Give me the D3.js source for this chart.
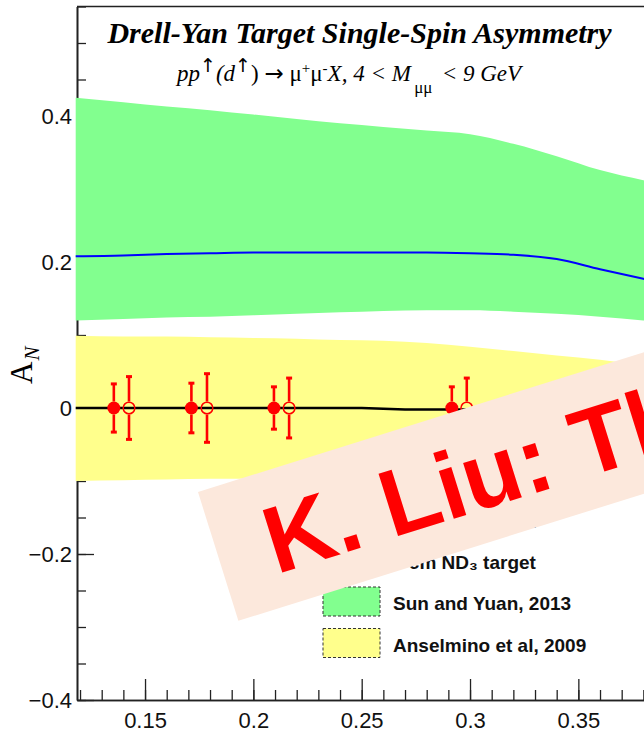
<!DOCTYPE html>
<html>
<head>
<meta charset="utf-8">
<script src="https://cdn.jsdelivr.net/npm/d3@7"></script>
<style>
  body { margin: 0; background: #fff; }
  svg { display: block; }
</style>
</head>
<body>
<svg id="chart" width="644" height="733"></svg>
<script>
// x grid for the theory bands
const bandX = [0.118, 0.14, 0.16, 0.18, 0.20, 0.22, 0.24, 0.26, 0.28, 0.30, 0.32, 0.34, 0.36, 0.38, 0.40];

// Sun and Yuan, 2013 (green band + blue central curve)
const sunUpper = [0.425, 0.419, 0.413, 0.408, 0.402, 0.396, 0.390, 0.385, 0.380, 0.375, 0.362, 0.345, 0.326, 0.312, 0.300];
const sunLower = [0.120, 0.122, 0.124, 0.125, 0.127, 0.129, 0.131, 0.133, 0.134, 0.134, 0.132, 0.129, 0.125, 0.120, 0.115];
const sunCentral = [0.208, 0.209, 0.211, 0.212, 0.213, 0.213, 0.213, 0.213, 0.213, 0.212, 0.210, 0.204, 0.190, 0.177, 0.165];

// Anselmino et al, 2009 (yellow band)
const ansUpper = [0.099, 0.098, 0.098, 0.097, 0.096, 0.095, 0.093, 0.092, 0.089, 0.084, 0.078, 0.072, 0.066, 0.058, 0.050];
const ansLower = [-0.100, -0.099, -0.098, -0.097, -0.097, -0.096, -0.094, -0.093, -0.090, -0.085, -0.079, -0.073, -0.067, -0.059, -0.051];

// zero line
const zeroX = [0.118, 0.25, 0.26, 0.27, 0.30, 0.34];
const zeroY = [0, 0, -0.001, -0.002, -0.002, -0.002];

// projected points (NH3 filled, ND3 open)
const nh3X = [0.1356, 0.1714, 0.2095, 0.2916];
const nh3Y = [0, 0, 0, 0];
const nh3Err = [0.033, 0.034, 0.029, 0.029];
const nd3X = [0.1426, 0.1786, 0.2165, 0.2985];
const nd3Y = [0, 0, 0, 0];
const nd3Err = [0.043, 0.047, 0.041, 0.041];

// ticks
const xMajor = [0.15, 0.2, 0.25, 0.3, 0.35];
const xMinor = d3.range(12, 39).map(d => d / 100);
const yMajor = [-0.4, -0.2, 0, 0.2, 0.4];
const yMinor = d3.range(-8, 12).map(d => d * 0.05);

const legendLabels = ["8 cm NH\u2083 target", "8 cm ND\u2083 target", "Sun and Yuan, 2013", "Anselmino et al, 2009"];

const svg = d3.select("#chart");

const x = d3.scaleLinear().domain([0.1186, 0.3803]).range([77, 644]);
const y = d3.scaleLinear().domain([-0.4, 0.55]).range([700, 6.5]);

const sans = "'Liberation Sans', Arial, Helvetica, sans-serif";
const serif = "'Liberation Serif', 'Times New Roman', serif";

/* axes */
function styleAxis(g) {
	g.select(".domain").attr("stroke", "#222").attr("stroke-width", 1.6);
	g.selectAll(".tick line").attr("stroke", "#222").attr("stroke-width", 1.3);
	g.selectAll("text")
		.attr("fill", "#111")
		.style("font-family", sans)
		.style("font-size", "22px");
}

svg.append("g")
	.attr("transform", "translate(0,700)")
	.call(d3.axisBottom(x).tickValues(xMinor).tickSize(-10).tickSizeOuter(0).tickFormat(""))
	.call(styleAxis);

svg.append("g")
	.attr("transform", "translate(0,700)")
	.call(d3.axisBottom(x).tickValues(xMajor).tickSize(-21).tickSizeOuter(0).tickPadding(12)
		.tickFormat(d3.format("")))
	.call(styleAxis);

svg.append("g")
	.attr("transform", "translate(77,0)")
	.call(d3.axisLeft(y).tickValues(yMinor).tickSize(-9).tickSizeOuter(0).tickFormat(""))
	.call(styleAxis);

svg.append("g")
	.attr("transform", "translate(77,0)")
	.call(d3.axisLeft(y).tickValues(yMajor).tickSize(-17).tickSizeOuter(0).tickPadding(5)
		.tickFormat(d => d === 0 ? "0" : d3.format(".1f")(d)))
	.call(styleAxis);

// top frame
svg.append("line")
	.attr("x1", 77).attr("x2", 700)
	.attr("y1", y(0.55)).attr("y2", y(0.55))
	.attr("stroke", "#222").attr("stroke-width", 1.6);

/* bands */
const area = (lo, hi) => d3.area()
	.x((d, i) => x(bandX[i]))
	.y0((d, i) => y(lo[i]))
	.y1((d, i) => y(hi[i]))
	.curve(d3.curveMonotoneX)(bandX);

svg.append("path").attr("d", area(sunLower, sunUpper)).attr("fill", "#82ff8f");
svg.append("path").attr("d", area(ansLower, ansUpper)).attr("fill", "#ffff8c");

svg.append("path")
	.attr("d", d3.line().x((d, i) => x(bandX[i])).y(d => y(d)).curve(d3.curveMonotoneX)(sunCentral))
	.attr("fill", "none").attr("stroke", "#0000ff").attr("stroke-width", 2);

svg.append("path")
	.attr("d", d3.line().x((d, i) => x(zeroX[i])).y(d => y(d))(zeroY))
	.attr("fill", "none").attr("stroke", "#000").attr("stroke-width", 2.6);

/* points with error bars */
const r = 6.5;
function drawPoints(xs, ys, errs, filled) {
	const g = svg.append("g");
	xs.forEach((xv, i) => {
		const cx = x(xv), cy = y(ys[i]);
		const top = y(ys[i] + errs[i]), bot = y(ys[i] - errs[i]);
		g.append("line").attr("x1", cx).attr("x2", cx).attr("y1", top).attr("y2", cy - r)
			.attr("stroke", "red").attr("stroke-width", 2.6);
		g.append("line").attr("x1", cx).attr("x2", cx).attr("y1", cy + r).attr("y2", bot)
			.attr("stroke", "red").attr("stroke-width", 2.6);
		[top, bot].forEach(yy => {
			g.append("line").attr("x1", cx - 3).attr("x2", cx + 3).attr("y1", yy).attr("y2", yy)
				.attr("stroke", "red").attr("stroke-width", 3);
		});
		g.append("circle").attr("cx", cx).attr("cy", cy).attr("r", filled ? r : r - 0.7)
			.attr("fill", filled ? "red" : "none")
			.attr("stroke", "red").attr("stroke-width", filled ? 0 : 1.5);
	});
}
drawPoints(nh3X, nh3Y, nh3Err, true);
drawPoints(nd3X, nd3Y, nd3Err, false);

/* legend */
const legY = [528, 569, 610, 652];
const leg = svg.append("g");
legendLabels.forEach((lab, i) => {
	leg.append("text")
		.attr("x", 393).attr("y", legY[i])
		.style("font-family", sans).style("font-size", "19px").style("font-weight", "bold")
		.attr("fill", "#111")
		.text(lab);
});
leg.append("circle").attr("cx", 351).attr("cy", legY[0] - 6).attr("r", r).attr("fill", "red");
leg.append("circle").attr("cx", 351).attr("cy", legY[1] - 6).attr("r", r - 0.7)
	.attr("fill", "none").attr("stroke", "red").attr("stroke-width", 1.5);
[["#82ff8f", 587], ["#ffff8c", 628.5]].forEach(([c, yy]) => {
	leg.append("rect").attr("x", 323).attr("y", yy).attr("width", 57).attr("height", 29)
		.attr("fill", c).attr("stroke", "#333").attr("stroke-width", 1).attr("stroke-dasharray", "3,2");
});

/* titles */
svg.append("text")
	.attr("x", 359.5).attr("y", 43)
	.attr("text-anchor", "middle")
	.style("font-family", serif).style("font-size", "30px")
	.style("font-weight", "bold").style("font-style", "italic")
	.attr("fill", "#000")
	.text("Drell-Yan Target Single-Spin Asymmetry");

const sub = svg.append("text")
	.attr("x", 349).attr("y", 81)
	.attr("text-anchor", "middle")
	.style("font-family", serif).style("font-size", "23px")
	.attr("fill", "#000");
const parts = [
	["pp", 0, "italic", 23, serif], ["\u2191", -9, "normal", 19, "'DejaVu Sans'"], ["(d", 9, "italic", 23, serif],
	["\u2191", -9, "normal", 19, "'DejaVu Sans'"], [") ", 9, "normal", 23, serif], ["\u2192", 0, "normal", 23, "'DejaVu Sans'"],
	[" \u03bc", 0, "normal", 23, serif], ["+", -8, "normal", 15, serif], ["\u03bc", 8, "normal", 23, serif],
	["-", -8, "normal", 15, serif], ["X, 4 < M", 8, "italic", 23, serif], ["\u2009\u03bc\u03bc\u2009", 12, "normal", 17, serif],
	[" < 9 GeV", -12, "italic", 23, serif]
];
parts.forEach(([t, dy, st, fs, ff]) => {
	sub.append("tspan").attr("dy", dy)
		.style("font-family", ff).style("font-style", st).style("font-size", fs + "px").text(t);
});

// y axis title
const yl = svg.append("text")
	.attr("transform", "translate(32,384) rotate(-90)")
	.style("font-family", serif).style("font-size", "31px")
	.attr("fill", "#000");
yl.append("tspan").text("A");
yl.append("tspan").attr("dy", 7).attr("dx", 1).style("font-size", "21px").style("font-style", "italic").text("N");

/* watermark */
const wm = svg.append("g").attr("transform", "translate(198,492) rotate(-17.4)");
wm.append("rect").attr("x", 0).attr("y", 0).attr("width", 700).attr("height", 135).attr("fill", "#fce8dc");
wm.append("text")
	.attr("x", 50).attr("y", 102)
	.style("font-family", sans).style("font-size", "95px").style("font-weight", "bold")
	.attr("fill", "#ff0000")
	.text("K. Liu: Th");
</script>
</body>
</html>
